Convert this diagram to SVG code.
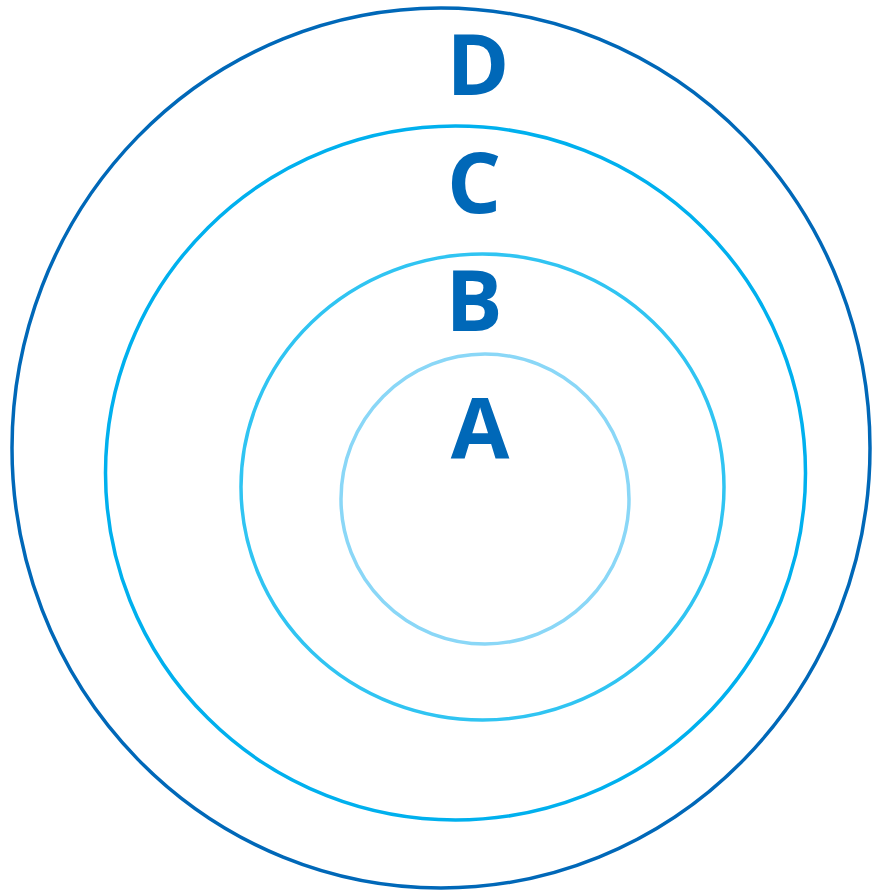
<svg xmlns="http://www.w3.org/2000/svg" width="872" height="894" viewBox="0 0 872 894">
<style>
.ring{fill:none;stroke-width:3.5}
.lbl{font-family:"Open Sans","Noto Sans",sans-serif;font-weight:bold;font-size:85px;fill:#0068B8;text-anchor:middle}
</style>
<rect width="872" height="894" fill="#fff"/>
<g id="nodeD"><ellipse class="ring" cx="441" cy="448" rx="429" ry="440" stroke="#0068B8"/><text class="lbl" x="478" y="95">D</text></g>
<g id="nodeC"><ellipse class="ring" cx="455.5" cy="473" rx="350" ry="347" stroke="#00B0EE"/><text class="lbl" x="474" y="213">C</text></g>
<g id="nodeB"><ellipse class="ring" cx="482.5" cy="487" rx="241.5" ry="233" stroke="#30C4F2"/><text class="lbl" x="474" y="331">B</text></g>
<g id="nodeA"><ellipse class="ring" cx="485" cy="499" rx="144" ry="145" stroke="#8AD7F7"/><text class="lbl" x="480" y="458">A</text></g>
<g id="connectors"/>
</svg>
